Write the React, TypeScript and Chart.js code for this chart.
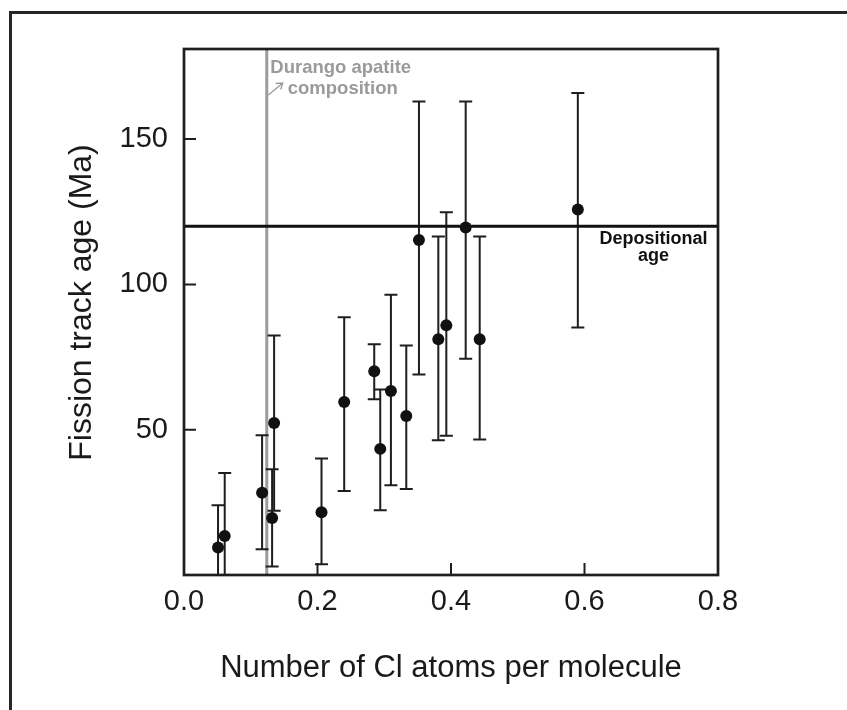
import React, { useEffect, useRef } from 'react';
import { Chart, registerables } from 'chart.js';

Chart.register(...registerables);

// Cl atoms per molecule (x) and fission track ages (Ma) with error bar bounds
const clAtoms = [0.051, 0.061, 0.117, 0.132, 0.135, 0.206, 0.240, 0.285, 0.294, 0.310, 0.333, 0.352, 0.381, 0.393, 0.422, 0.443, 0.590];
const fissionAge = [9.5, 13.4, 28.3, 19.6, 52.3, 21.6, 59.5, 70.1, 43.4, 63.3, 54.7, 115.3, 81.1, 85.9, 119.6, 81.1, 125.8];
const ageUpper = [24.0, 35.1, 48.1, 36.4, 82.4, 40.1, 88.7, 79.4, 63.8, 96.4, 79.0, 162.9, 116.5, 124.8, 162.9, 116.5, 165.9];
const ageLower = [-5, -5, 8.9, 2.9, 22.1, 3.7, 28.9, 60.5, 22.3, 30.9, 29.6, 69.0, 46.4, 47.9, 74.4, 46.6, 85.2];

const xTickValues = [0, 0.2, 0.4, 0.6, 0.8];
const yTickValues = [50, 100, 150];
const depositionalAge = 120;
const durangoCl = 0.124;

const FONT = '"Liberation Sans", Arial, Helvetica, sans-serif';

const decorPlugin = {
  id: 'decor',
  beforeDraw(chart: any) {
    const ctx = chart.ctx;
    ctx.save();
    ctx.fillStyle = '#ffffff';
    ctx.fillRect(0, 0, chart.width, chart.height);
    // outer figure frame (left and top visible)
    ctx.strokeStyle = '#262626';
    ctx.lineWidth = 3;
    ctx.beginPath();
    ctx.moveTo(10.5, chart.height);
    ctx.lineTo(10.5, 12.5);
    ctx.lineTo(chart.width, 12.5);
    ctx.stroke();
    ctx.restore();
  },
  beforeDatasetsDraw(chart: any) {
    const ctx = chart.ctx;
    const xs = chart.scales.x;
    const ys = chart.scales.y;
    const { left, right, top, bottom } = chart.chartArea;
    ctx.save();
    ctx.beginPath();
    ctx.rect(left, top, right - left, bottom - top);
    ctx.clip();

    // Durango apatite line
    const dx = xs.getPixelForValue(durangoCl);
    ctx.strokeStyle = '#9c9c9c';
    ctx.lineWidth = 3;
    ctx.beginPath();
    ctx.moveTo(dx, top);
    ctx.lineTo(dx, bottom);
    ctx.stroke();

    // error bars
    ctx.strokeStyle = '#1e1e1e';
    ctx.lineWidth = 2;
    const cap = 6.5;
    for (let i = 0; i < clAtoms.length; i++) {
      const x = xs.getPixelForValue(clAtoms[i]);
      const yH = ys.getPixelForValue(ageUpper[i]);
      const yL = ys.getPixelForValue(ageLower[i]);
      ctx.beginPath();
      ctx.moveTo(x, yH);
      ctx.lineTo(x, yL);
      ctx.moveTo(x - cap, yH);
      ctx.lineTo(x + cap, yH);
      ctx.moveTo(x - cap, yL);
      ctx.lineTo(x + cap, yL);
      ctx.stroke();
    }

    // depositional age line
    const dy = ys.getPixelForValue(depositionalAge);
    ctx.strokeStyle = '#111111';
    ctx.lineWidth = 3;
    ctx.beginPath();
    ctx.moveTo(left, dy);
    ctx.lineTo(right, dy);
    ctx.stroke();
    ctx.restore();
  },
  afterDatasetsDraw(chart: any) {
    const ctx = chart.ctx;
    const xs = chart.scales.x;
    const ys = chart.scales.y;
    const { left, right, top, bottom } = chart.chartArea;
    ctx.save();
    // plot frame
    ctx.strokeStyle = '#1e1e1e';
    ctx.lineWidth = 2.7;
    ctx.strokeRect(left, top, right - left, bottom - top);

    // inner tick marks
    ctx.lineWidth = 2;
    ctx.beginPath();
    for (const v of yTickValues) {
      const y = ys.getPixelForValue(v);
      ctx.moveTo(left, y);
      ctx.lineTo(left + 12, y);
    }
    for (const v of xTickValues) {
      const x = xs.getPixelForValue(v);
      ctx.moveTo(x, bottom);
      ctx.lineTo(x, bottom - 12);
    }
    ctx.stroke();

    // Durango annotation
    const dx = xs.getPixelForValue(durangoCl);
    ctx.fillStyle = '#9a9a9a';
    ctx.font = `bold 18.5px ${FONT}`;
    ctx.textAlign = 'left';
    ctx.textBaseline = 'alphabetic';
    ctx.fillText('Durango apatite', dx + 3.5, top + 24);
    ctx.fillText('composition', dx + 21, top + 44.5);
    // small arrow
    ctx.strokeStyle = '#9a9a9a';
    ctx.lineWidth = 1.3;
    const ax0 = dx + 1.5, ay0 = top + 46, ax1 = dx + 16, ay1 = top + 34;
    ctx.beginPath();
    ctx.moveTo(ax0, ay0);
    ctx.lineTo(ax1, ay1);
    ctx.moveTo(ax1 - 7, ay1 + 0.5);
    ctx.lineTo(ax1, ay1);
    ctx.lineTo(ax1 - 2, ay1 + 6.5);
    ctx.stroke();

    // Depositional age annotation
    const dy = ys.getPixelForValue(depositionalAge);
    ctx.fillStyle = '#111111';
    ctx.font = `bold 18px ${FONT}`;
    ctx.textAlign = 'center';
    ctx.fillText('Depositional', right - 64.5, dy + 18);
    ctx.fillText('age', right - 64.5, dy + 34.5);

    // axis titles
    ctx.fillStyle = '#1a1a1a';
    ctx.font = `31px ${FONT}`;
    ctx.textAlign = 'center';
    ctx.fillText('Number of Cl atoms per molecule', (left + right) / 2, 677);
    ctx.save();
    ctx.translate(91, (140 + 465) / 2);
    ctx.rotate(-Math.PI / 2);
    ctx.font = `32px ${FONT}`;
    ctx.fillText('Fission track age (Ma)', 0, 0);
    ctx.restore();
    ctx.restore();
  },
};

export default function App() {
  const ref = useRef<HTMLCanvasElement | null>(null);
  useEffect(() => {
    if (!ref.current) return;
    const chart = new Chart(ref.current, {
      type: 'scatter',
      data: {
        datasets: [
          {
            label: 'Fission track age',
            data: clAtoms.map((x, i) => ({ x, y: fissionAge[i] })),
            backgroundColor: '#111111',
            borderColor: '#111111',
            pointRadius: 6,
            pointHoverRadius: 6,
            borderWidth: 0,
          },
        ],
      },
      options: {
        animation: false,
        responsive: false,
        devicePixelRatio: 1,
        layout: { padding: { top: 49, right: 129, left: 0, bottom: 0 } },
        plugins: { legend: { display: false }, tooltip: { enabled: false } },
        events: [],
        scales: {
          x: {
            type: 'linear',
            min: 0,
            max: 0.8,
            grid: { display: false },
            border: { display: false },
            afterFit: (scale: any) => {
              scale.height = 135;
            },
            afterBuildTicks: (scale: any) => {
              scale.ticks = xTickValues.map((v) => ({ value: v }));
            },
            ticks: {
              color: '#1a1a1a',
              font: { family: FONT, size: 29 },
              padding: 2,
              maxRotation: 0,
              callback: (v: any) => Number(v).toFixed(1),
            },
          },
          y: {
            type: 'linear',
            min: 0,
            max: 181,
            grid: { display: false },
            border: { display: false },
            afterFit: (scale: any) => {
              scale.width = 184;
            },
            afterBuildTicks: (scale: any) => {
              scale.ticks = yTickValues.map((v) => ({ value: v }));
            },
            ticks: {
              color: '#1a1a1a',
              font: { family: FONT, size: 29 },
              padding: 8,
              callback: (v: any) => String(v),
            },
          },
        },
      },
      plugins: [decorPlugin],
    });
    return () => chart.destroy();
  }, []);
  return (
    <div style={{ position: 'fixed', left: 0, top: 0, width: 847, height: 710, background: '#fff' }}>
      <canvas ref={ref} width={847} height={710} style={{ display: 'block', width: 847, height: 710 }} />
    </div>
  );
}
